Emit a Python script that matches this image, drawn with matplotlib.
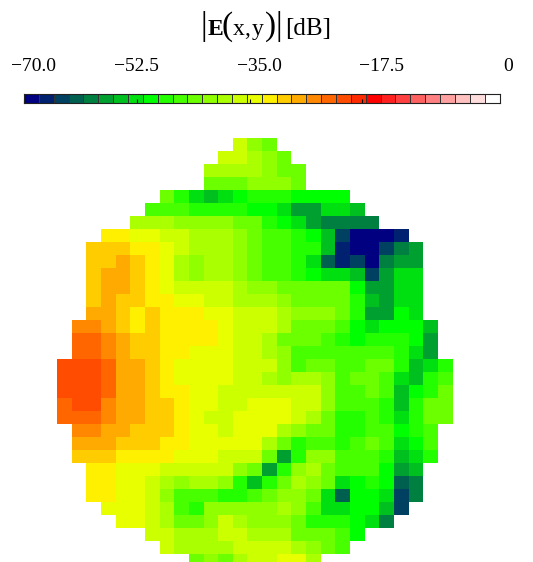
import numpy as np
import matplotlib
matplotlib.use('Agg')
import matplotlib.pyplot as plt
from matplotlib.colors import ListedColormap, BoundaryNorm

plt.rcParams['font.family'] = 'Liberation Serif'

W, H = 533, 562

# colour steps of the scale bar, low to high
palette = ['#000080', '#002070', '#004060', '#006050', '#008040', '#00a030', '#00c020', '#00e010',
           '#00ff00', '#24ff00', '#48ff00', '#6cff00', '#90ff00', '#aaff00', '#ccff00', '#e8ff00',
           '#fff000', '#ffcc00', '#ffaa00', '#ff8800', '#ff6600', '#ff4c00', '#ff2a00', '#ff0000',
           '#ff2020', '#ff4040', '#ff6060', '#ff8080', '#ffa0a0', '#ffc0c0', '#ffdddd', '#ffffff']
tick_labels = ['\u221270.0', '\u221252.5', '\u221235.0', '\u221217.5', '0']
tick_label_x = [33, 136, 259, 382, 508]
bar_ticks = [-70, -53.4, -36.8, -20.3]

# first filled column of every row, then the values in dB
row_start = [12, 11, 10, 10, 7, 6, 5, 3, 2, 2, 2, 2, 2, 2, 1, 1, 1,
             0, 0, 0, 0, 0, 1, 1, 1, 2, 2, 2, 3, 4, 6, 7, 9]
field_db = [
    [-38, -43, -45],
    [-38, -38, -40, -43, -45],
    [-40, -40, -40, -40, -43, -45, -45],
    [-45, -45, -45, -43, -43, -43, -45],
    [-45, -49, -54, -56, -54, -51, -49, -49, -49, -51, -51, -51, -51],
    [-47, -47, -47, -49, -49, -49, -49, -51, -51, -54, -58, -58, -54, -54, -56],
    [-40, -40, -40, -43, -43, -43, -43, -45, -45, -49, -51, -54, -58, -60, -60, -60, -60],
    [-34, -34, -36, -36, -38, -38, -40, -40, -40, -43, -45, -47, -47, -49, -51, -56, -65, -69, -69, -69, -67],
    [-32, -32, -32, -34, -34, -36, -38, -40, -40, -40, -43, -45, -47, -47, -49, -49, -56, -67, -69, -69, -65, -60, -58],
    [-32, -32, -30, -32, -34, -36, -40, -43, -40, -40, -43, -45, -47, -47, -49, -54, -62, -67, -65, -69, -60, -58, -58],
    [-32, -30, -30, -32, -34, -36, -40, -43, -40, -40, -43, -45, -47, -47, -49, -51, -54, -54, -56, -65, -58, -54, -54],
    [-32, -30, -30, -32, -34, -36, -38, -38, -38, -38, -40, -43, -43, -45, -45, -45, -45, -45, -51, -58, -58, -54, -54],
    [-32, -30, -32, -32, -34, -34, -36, -36, -38, -38, -40, -40, -40, -43, -45, -45, -45, -45, -49, -56, -58, -54, -54],
    [-30, -30, -32, -34, -32, -34, -34, -34, -36, -36, -38, -38, -38, -40, -43, -43, -43, -45, -49, -58, -58, -51, -54],
    [-27, -27, -30, -32, -34, -32, -34, -34, -34, -34, -36, -38, -38, -38, -40, -45, -45, -45, -47, -51, -54, -51, -51, -51, -56],
    [-25, -25, -27, -30, -32, -32, -34, -34, -34, -34, -36, -38, -38, -40, -45, -45, -45, -47, -49, -51, -49, -49, -49, -51, -58],
    [-25, -25, -27, -30, -32, -32, -34, -34, -36, -36, -36, -38, -38, -40, -43, -47, -47, -47, -47, -47, -47, -47, -49, -54, -58],
    [-23, -23, -23, -25, -30, -30, -32, -34, -36, -36, -36, -36, -38, -38, -38, -43, -47, -45, -45, -47, -47, -45, -45, -49, -56, -54, -49],
    [-23, -23, -23, -25, -30, -30, -32, -34, -36, -36, -36, -36, -38, -38, -40, -43, -40, -40, -43, -47, -45, -45, -47, -54, -56, -49, -47],
    [-23, -23, -23, -25, -30, -30, -32, -34, -34, -36, -36, -38, -38, -38, -38, -38, -38, -38, -43, -47, -47, -45, -47, -56, -51, -49, -45],
    [-25, -23, -23, -27, -30, -30, -32, -32, -34, -36, -36, -38, -38, -36, -36, -36, -38, -38, -43, -47, -47, -47, -49, -56, -49, -45, -45],
    [-25, -25, -25, -27, -30, -30, -32, -32, -34, -36, -38, -38, -36, -36, -36, -36, -38, -40, -45, -49, -49, -47, -49, -54, -49, -45, -45],
    [-27, -27, -30, -30, -32, -32, -32, -34, -36, -36, -38, -36, -36, -36, -40, -43, -45, -45, -49, -49, -47, -47, -51, -49, -47],
    [-30, -30, -30, -32, -32, -32, -34, -34, -36, -36, -36, -36, -36, -40, -45, -49, -47, -47, -49, -47, -45, -47, -54, -51, -47],
    [-32, -32, -32, -34, -34, -34, -34, -36, -36, -36, -38, -38, -38, -45, -58, -49, -43, -43, -47, -47, -47, -49, -56, -54, -49],
    [-34, -34, -36, -36, -36, -38, -38, -38, -38, -38, -43, -45, -58, -49, -43, -40, -45, -47, -47, -47, -51, -58, -56],
    [-34, -34, -36, -36, -38, -40, -43, -40, -40, -43, -49, -56, -49, -45, -40, -43, -45, -54, -51, -49, -51, -62, -60],
    [-34, -34, -36, -36, -38, -43, -47, -47, -47, -49, -49, -47, -45, -43, -43, -45, -54, -62, -51, -51, -54, -65, -60],
    [-36, -36, -36, -38, -40, -47, -49, -43, -43, -43, -43, -43, -40, -43, -47, -54, -54, -51, -51, -56, -65],
    [-36, -36, -38, -40, -45, -45, -43, -38, -40, -43, -43, -43, -45, -49, -49, -49, -51, -54, -60],
    [-38, -38, -40, -40, -40, -38, -38, -40, -40, -40, -45, -45, -45, -47, -51],
    [-38, -40, -40, -40, -40, -38, -38, -38, -38, -40, -43, -45, -47],
    [-45, -43, -45, -40, -38, -38, -36, -36, -40],
]

n_cols = 27
grid = np.full((len(field_db), n_cols), np.nan)
for r, vals in enumerate(field_db):
    grid[r, row_start[r]:row_start[r] + len(vals)] = vals

levels = np.linspace(-70, 0, len(palette) + 1)
cmap = ListedColormap(palette)
cmap.set_bad('white')
norm = BoundaryNorm(levels, len(palette))


def px_axes(fig, x0, y0, x1, y1):
    # axes from pixel box, y measured from the top of the picture
    return fig.add_axes([x0 / W, 1 - y1 / H, (x1 - x0) / W, (y1 - y0) / H])


fig = plt.figure(figsize=(W / 100, H / 100), dpi=100)

# field map, the last row runs off the bottom of the picture
ax = px_axes(fig, 57, 137.7, 452.6, 566.7)
ax.pcolormesh(np.arange(n_cols + 1), np.arange(len(field_db) + 1), np.ma.masked_invalid(grid),
              cmap=cmap, norm=norm, linewidth=0, antialiased=False)
ax.set_ylim(len(field_db), 0)
ax.axis('off')

# scale bar
cax = px_axes(fig, 24, 94.5, 499.5, 103.5)
cax.pcolormesh(levels, [0, 1], np.array([levels[:-1] + 1]), cmap=cmap, norm=norm,
               edgecolors='#333333', linewidth=0.45)
cax.set_yticks([])
cax.set_xticks(bar_ticks)
cax.set_xticklabels([])
cax.tick_params(axis='x', direction='in', length=3, width=0.8, color='black')
for s in cax.spines.values():
    s.set_linewidth(0.8)
    s.set_color('#222222')

for x, lab in zip(tick_label_x, tick_labels):
    fig.text(x / W, 1 - 71 / H, lab, ha='center', va='baseline', fontsize=14)

# title is put together piece by piece because of the tall brackets
title_parts = [('|', 204, 24, 'normal'), ('E', 215, 17, 'bold'), ('(', 227, 24, 'normal'),
               ('x', 239, 17, 'normal'), (',', 247.5, 17, 'normal'), ('y', 258, 17, 'normal'),
               (')', 270, 24, 'normal'), ('|', 279, 24, 'normal'), ('[dB]', 308, 18, 'normal')]
for s, x, size, weight in title_parts:
    fig.text(x / W, 1 - 35 / H, s, ha='center', va='baseline', fontsize=size, fontweight=weight)

fig.savefig('out.png', dpi=100)
